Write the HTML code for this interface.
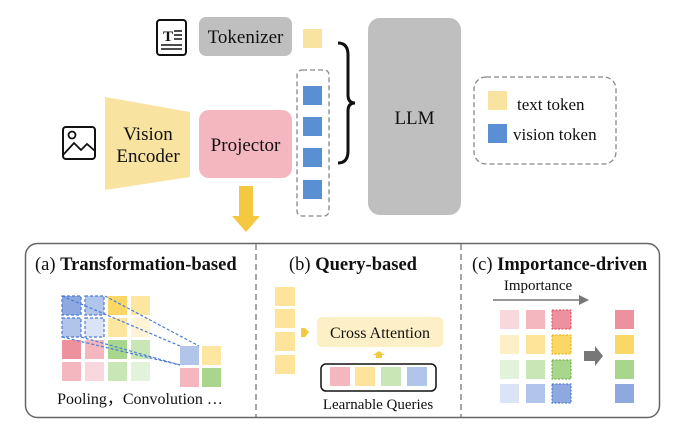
<!DOCTYPE html>
<html><head><meta charset="utf-8"><style>
html,body{margin:0;padding:0;background:#fff;}
svg{display:block;font-family:"Liberation Serif",serif;}
</style></head><body>
<svg width="690" height="425" viewBox="0 0 690 425" xmlns="http://www.w3.org/2000/svg">
<!-- text icon -->
<rect x="157" y="20" width="29" height="35" rx="3" fill="none" stroke="#111" stroke-width="2"/>
<text x="163" y="41" font-size="15" font-weight="bold" fill="#111">T</text>
<line x1="174" y1="31" x2="182" y2="31" stroke="#111" stroke-width="1.5"/>
<line x1="174" y1="35" x2="182" y2="35" stroke="#111" stroke-width="1.5"/>
<line x1="174" y1="39" x2="182" y2="39" stroke="#111" stroke-width="1.5"/>
<line x1="161" y1="45" x2="182" y2="45" stroke="#111" stroke-width="1.5"/>
<line x1="161" y1="49" x2="182" y2="49" stroke="#111" stroke-width="1.5"/>
<!-- tokenizer -->
<rect x="199" y="17" width="93" height="39" rx="7" fill="#bfbfbf"/>
<text x="245.5" y="43" font-size="19" text-anchor="middle" fill="#111">Tokenizer</text>
<rect x="303" y="29" width="19" height="19" fill="#f9e3a0"/>
<!-- image icon -->
<rect x="63" y="127" width="32" height="32" rx="3" fill="none" stroke="#111" stroke-width="2"/>
<circle cx="72" cy="135" r="3.5" fill="none" stroke="#111" stroke-width="1.8"/>
<polyline points="63,155 74,143 81,150 87,144 95,151" fill="none" stroke="#111" stroke-width="1.8"/>
<!-- vision encoder -->
<polygon points="105,97 190,112 190,177 105,190" fill="#f9e3a0"/>
<text x="148" y="140" font-size="19" text-anchor="middle" fill="#111">Vision</text>
<text x="148" y="162" font-size="19" text-anchor="middle" fill="#111">Encoder</text>
<!-- projector -->
<rect x="199" y="110" width="93" height="68" rx="10" fill="#f4b6bf"/>
<text x="245.5" y="151" font-size="19" text-anchor="middle" fill="#111">Projector</text>
<!-- yellow down arrow -->
<polygon points="239,186 253,186 253,216 260,216 246,232 232,216 239,216" fill="#f5c842"/>
<!-- dashed token column -->
<rect x="297" y="70" width="32" height="146" rx="5" fill="none" stroke="#888" stroke-width="1.3" stroke-dasharray="5,3"/>
<rect x="303" y="86" width="19" height="19" fill="#5b8fd4"/>
<rect x="303" y="117" width="19" height="19" fill="#5b8fd4"/>
<rect x="303" y="148" width="19" height="19" fill="#5b8fd4"/>
<rect x="303" y="180" width="19" height="19" fill="#5b8fd4"/>
<!-- brace -->
<path d="M338,43 Q348,43 348,55 L348,95 Q348,103 355,103 Q348,103 348,111 L348,151 Q348,163 338,163" fill="none" stroke="#111" stroke-width="3"/>
<!-- LLM -->
<rect x="368" y="18" width="93" height="197" rx="12" fill="#bfbfbf"/>
<text x="414.5" y="124" font-size="19" text-anchor="middle" fill="#111">LLM</text>
<!-- legend -->
<rect x="474" y="77" width="142" height="87" rx="12" fill="none" stroke="#888" stroke-width="1.3" stroke-dasharray="5,3"/>
<rect x="488" y="91" width="19" height="19" fill="#f9e3a0"/>
<text x="517" y="110" font-size="17" fill="#111">text token</text>
<rect x="488" y="124" width="19" height="19" fill="#5b8fd4"/>
<text x="513" y="140" font-size="17" fill="#111">vision token</text>

<!-- bottom panel -->
<rect x="25.5" y="243.5" width="634" height="174" rx="12" fill="none" stroke="#666" stroke-width="1.5"/>
<line x1="256" y1="244" x2="256" y2="417" stroke="#888" stroke-width="1.5" stroke-dasharray="6,4"/>
<line x1="461" y1="244" x2="461" y2="417" stroke="#888" stroke-width="1.5" stroke-dasharray="6,4"/>
<text x="35" y="270" font-size="18.5" fill="#111">(a) <tspan font-weight="bold">Transformation-based</tspan></text>
<text x="289" y="270" font-size="18.5" fill="#111">(b) <tspan font-weight="bold">Query-based</tspan></text>
<text x="472" y="270" font-size="18.5" fill="#111">(c) <tspan font-weight="bold">Importance-driven</tspan></text>

<!-- (a) grid -->
<g>
<rect x="62" y="296" width="19" height="19" fill="#8ea9df"/>
<rect x="85" y="296" width="19" height="19" fill="#b1c4ea"/>
<rect x="108" y="296" width="19" height="19" fill="#fbd866"/>
<rect x="131" y="296" width="19" height="19" fill="#fde7a0"/>
<rect x="62" y="318" width="19" height="19" fill="#b1c4ea"/>
<rect x="85" y="318" width="19" height="19" fill="#dbe4f6"/>
<rect x="108" y="318" width="19" height="19" fill="#fde7a0"/>
<rect x="131" y="318" width="19" height="19" fill="#fef3d4"/>
<rect x="62" y="340" width="19" height="19" fill="#ee919e"/>
<rect x="85" y="340" width="19" height="19" fill="#f4b6bf"/>
<rect x="108" y="340" width="19" height="19" fill="#a8d68c"/>
<rect x="131" y="340" width="19" height="19" fill="#c9e6b6"/>
<rect x="62" y="362" width="19" height="19" fill="#f4b6bf"/>
<rect x="85" y="362" width="19" height="19" fill="#f9d8dd"/>
<rect x="108" y="362" width="19" height="19" fill="#c9e6b6"/>
<rect x="131" y="362" width="19" height="19" fill="#e3f2da"/>
<g fill="none" stroke="#4a7bd6" stroke-width="1.2" stroke-dasharray="3,2">
<rect x="62" y="296" width="19" height="19"/><rect x="85" y="296" width="19" height="19"/>
<rect x="62" y="318" width="19" height="19"/><rect x="85" y="318" width="19" height="19"/>
<line x1="62" y1="296" x2="180" y2="346"/>
<line x1="105" y1="296" x2="199" y2="346"/>
<line x1="62" y1="337" x2="180" y2="365"/>
<line x1="81" y1="337" x2="180" y2="365"/>
</g>
<rect x="180" y="346" width="19" height="19" fill="#b1c4ea"/>
<rect x="202" y="346" width="19" height="19" fill="#fde7a0"/>
<rect x="180" y="368" width="19" height="19" fill="#f4b6bf"/>
<rect x="202" y="368" width="19" height="19" fill="#a8d68c"/>
</g>
<text x="140" y="404" font-size="16" text-anchor="middle" fill="#111">Pooling，Convolution …</text>

<!-- (b) -->
<rect x="275" y="287" width="20" height="19" fill="#fde49a"/>
<rect x="275" y="309" width="20" height="19" fill="#fde49a"/>
<rect x="275" y="332" width="20" height="19" fill="#fde49a"/>
<rect x="275" y="355" width="20" height="19" fill="#fde49a"/>
<polygon points="301,328 305,328 309,332 305,337 301,337" fill="#f5c842"/>
<rect x="317" y="317" width="126" height="30" rx="5" fill="#fef0c6"/>
<text x="380" y="338" font-size="16" text-anchor="middle" fill="#111">Cross Attention</text>
<polygon points="379,351 385,355 382,355 382,358 376,358 376,355 373,355" fill="#f5c842"/>
<rect x="321" y="364" width="115" height="27" rx="5" fill="none" stroke="#111" stroke-width="1.5"/>
<rect x="330" y="367" width="20" height="19" fill="#f4b6bf"/>
<rect x="355" y="367" width="20" height="19" fill="#fde49a"/>
<rect x="381" y="367" width="20" height="19" fill="#c9e6b6"/>
<rect x="407" y="367" width="20" height="19" fill="#b1c4ea"/>
<text x="378" y="409" font-size="15" text-anchor="middle" fill="#111">Learnable Queries</text>

<!-- (c) -->
<text x="538" y="290" font-size="15" text-anchor="middle" fill="#111">Importance</text>
<line x1="493" y1="300" x2="580" y2="300" stroke="#777" stroke-width="1.5"/>
<polygon points="579,295 589,300 579,305" fill="#777"/>
<rect x="500" y="310" width="19" height="19" fill="#f9d8dd"/>
<rect x="526" y="310" width="19" height="19" fill="#f4b6bf"/>
<rect x="552" y="310" width="19" height="19" fill="#ee919e" stroke="#e0455a" stroke-dasharray="2,1.5"/>
<rect x="500" y="335" width="19" height="19" fill="#fef0c6"/>
<rect x="526" y="335" width="19" height="19" fill="#fde49a"/>
<rect x="552" y="335" width="19" height="19" fill="#fbd866" stroke="#e6a800" stroke-dasharray="2,1.5"/>
<rect x="500" y="360" width="19" height="19" fill="#e3f2da"/>
<rect x="526" y="360" width="19" height="19" fill="#c9e6b6"/>
<rect x="552" y="360" width="19" height="19" fill="#a8d68c" stroke="#5fa832" stroke-dasharray="2,1.5"/>
<rect x="500" y="384" width="19" height="19" fill="#dbe4f6"/>
<rect x="526" y="384" width="19" height="19" fill="#b1c4ea"/>
<rect x="552" y="384" width="19" height="19" fill="#8ea9df" stroke="#3c6bc8" stroke-dasharray="2,1.5"/>
<polygon points="584,351 595,351 595,346 603,356 595,366 595,361 584,361" fill="#777"/>
<rect x="615" y="310" width="19" height="19" fill="#ee919e"/>
<rect x="615" y="335" width="19" height="19" fill="#fbd866"/>
<rect x="615" y="360" width="19" height="19" fill="#a8d68c"/>
<rect x="615" y="384" width="19" height="19" fill="#8ea9df"/>
</svg>
</body></html>
